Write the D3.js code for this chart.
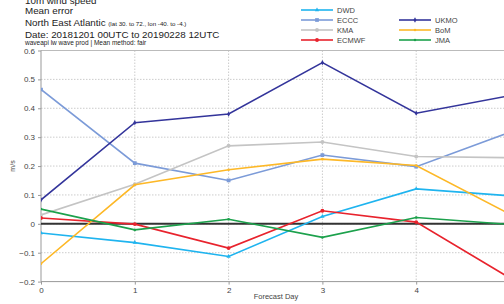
<!DOCTYPE html>
<html>
<head>
<meta charset="utf-8">
<script src="https://cdn.jsdelivr.net/npm/d3@7"></script>
<style>
  body { margin: 0; background: #fff; }
  svg { display: block; font-family: "Liberation Sans", Arial, sans-serif; }
  .grid line { stroke: #ccc; stroke-dasharray: 1.5,1.5; }
  .axis text { fill: #444; font-size: 8px; }
  .axis path, .axis line { stroke: #999; }
</style>
</head>
<body>
<svg id="chart" width="504" height="304"></svg>
<script>
(function () {
  const days = [0, 1, 2, 3, 4, 5];
  const yTicks = [-0.2, -0.1, 0, 0.1, 0.2, 0.3, 0.4, 0.5, 0.6];

  const dwd = [-0.032, -0.065, -0.113, 0.025, 0.121, 0.097];
  const eccc = [0.465, 0.21, 0.15, 0.238, 0.198, 0.317];
  const kma = [0.031, 0.137, 0.27, 0.283, 0.233, 0.229];
  const ecmwf = [0.02, -0.001, -0.084, 0.045, 0.006, -0.188];
  const ukmo = [0.083, 0.35, 0.38, 0.558, 0.383, 0.444];
  const bom = [-0.138, 0.135, 0.187, 0.224, 0.202, 0.033];
  const jma = [0.051, -0.021, 0.016, -0.047, 0.022, -0.002];

  const series = [
    { name: 'DWD', values: dwd, color: '#1fb4ef', marker: d3.symbolTriangle, size: 8 },
    { name: 'ECCC', values: eccc, color: '#7c9bd8', marker: d3.symbolSquare, size: 14 },
    { name: 'KMA', values: kma, color: '#c4c4c4', marker: d3.symbolCircle, size: 12 },
    { name: 'ECMWF', values: ecmwf, color: '#e8232d', marker: d3.symbolCircle, size: 12 },
    { name: 'UKMO', values: ukmo, color: '#34359b', marker: d3.symbolDiamond, size: 8 },
    { name: 'BoM', values: bom, color: '#fdb827', marker: d3.symbolCircle, size: 5 },
    { name: 'JMA', values: jma, color: '#1ca14c', marker: d3.symbolCircle, size: 5 }
  ];

  const svg = d3.select('#chart');
  const left = 41, right = 510, top = 50.5, bottom = 281.6;

  const x = d3.scaleLinear().domain([0, 5]).range([left, right]);
  const y = d3.scaleLinear().domain([-0.2, 0.6]).range([bottom, top]);

  svg.append('defs').append('clipPath').attr('id', 'plot-clip')
    .append('rect').attr('x', left).attr('y', top)
    .attr('width', right - left).attr('height', bottom - top);

  // grid
  svg.append('g').attr('class', 'grid')
    .selectAll('line.h').data(yTicks.slice(1)).enter().append('line')
    .attr('x1', left).attr('x2', right)
    .attr('y1', d => y(d)).attr('y2', d => y(d));
  svg.append('g').attr('class', 'grid')
    .selectAll('line.v').data(days.slice(1)).enter().append('line')
    .attr('x1', d => x(d)).attr('x2', d => x(d))
    .attr('y1', top).attr('y2', bottom);

  // frame top
  svg.append('line').attr('x1', left).attr('x2', right)
    .attr('y1', top).attr('y2', top).attr('stroke', '#bbb');

  const yAxis = svg.append('g').attr('class', 'axis')
    .attr('transform', 'translate(' + left + ',0)')
    .call(d3.axisLeft(y).tickValues(yTicks).tickSize(3)
      .tickFormat(d => d === 0 ? '0' : d3.format('.1f')(d)));
  yAxis.select('.domain').attr('d', 'M0,' + top + 'V' + bottom);

  const xAxis = svg.append('g').attr('class', 'axis')
    .attr('transform', 'translate(0,' + bottom + ')')
    .call(d3.axisBottom(x).tickValues(days.slice(0, 5)).tickSize(3).tickFormat(d3.format('d')));
  xAxis.select('.domain').attr('d', 'M' + left + ',0H' + right);

  // zero line
  svg.append('line').attr('x1', left).attr('x2', right)
    .attr('y1', y(0)).attr('y2', y(0))
    .attr('stroke', '#333').attr('stroke-width', 2);

  const plot = svg.append('g').attr('clip-path', 'url(#plot-clip)');
  const line = d3.line().x((d, i) => x(days[i])).y(d => y(d));

  series.forEach(function (s) {
    plot.append('path').datum(s.values)
      .attr('d', line).attr('fill', 'none')
      .attr('stroke', s.color).attr('stroke-width', 1.6);
    plot.selectAll(null).data(s.values).enter().append('path')
      .attr('d', d3.symbol().type(s.marker).size(s.size))
      .attr('transform', (d, i) => 'translate(' + x(days[i]) + ',' + y(d) + ')')
      .attr('fill', s.color);
  });

  // legend
  const legendPos = [
    [301, 10], [301, 20], [301, 30], [301, 40], [399, 20], [399, 30], [399, 40]
  ];
  series.forEach(function (s, i) {
    const p = legendPos[i];
    const g = svg.append('g').attr('transform', 'translate(' + p[0] + ',' + p[1] + ')');
    g.append('line').attr('x1', 0).attr('x2', 32).attr('stroke', s.color).attr('stroke-width', 1.6);
    g.append('path').attr('d', d3.symbol().type(s.marker).size(s.size))
      .attr('transform', 'translate(16,0)').attr('fill', s.color);
    g.append('text').attr('x', 36).attr('y', 3).attr('font-size', 7.5).attr('fill', '#444').text(s.name);
  });

  // titles
  const t = svg.append('g').attr('fill', '#222').attr('font-size', 9.8);
  t.append('text').attr('x', 25).attr('y', 3.5).text('10m wind speed');
  t.append('text').attr('x', 25).attr('y', 14.3).text('Mean error');
  const na = t.append('text').attr('x', 25).attr('y', 26);
  na.append('tspan').text('North East Atlantic ');
  na.append('tspan').attr('font-size', 6.2).text('(lat  30. to 72., lon  -40. to  -4.)');
  t.append('text').attr('x', 25).attr('y', 37.7).text('Date: 20181201 00UTC to 20190228 12UTC');
  t.append('text').attr('x', 25).attr('y', 45.3).attr('font-size', 6.5).text('waveapi lw wave prod | Mean method: fair');

  svg.append('text').attr('transform', 'translate(15,166) rotate(-90)')
    .attr('text-anchor', 'middle').attr('font-size', 7).attr('fill', '#444').text('m/s');
  svg.append('text').attr('x', 276).attr('y', 299)
    .attr('text-anchor', 'middle').attr('font-size', 7.5).attr('fill', '#444').text('Forecast Day');
})();
</script>
</body>
</html>
